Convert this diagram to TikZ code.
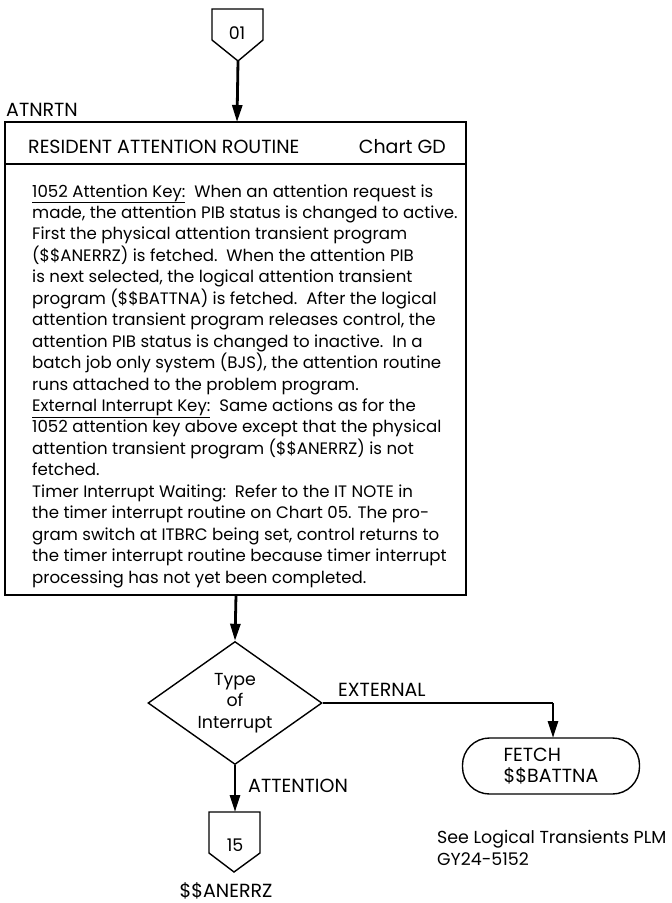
\documentclass[tikz,border=0pt]{standalone}
\usepackage{fontspec}
\setmainfont{Poppins}
\usetikzlibrary{arrows.meta,shapes.geometric,calc}
\newcommand{\bodyfnt}{\fontsize{16.6}{21.4}\selectfont}
\newcommand{\lblfnt}{\fontsize{17.4}{21.4}\selectfont}
\newcommand{\capsfnt}{\fontsize{19}{21.4}\selectfont}
\begin{document}
\begin{tikzpicture}[x=1pt,y=-1pt,
  shapeline/.style={line width=1.4pt},
  flow/.style={line width=2.8pt,-{Triangle[length=17pt,width=10pt]}},
  flowplain/.style={line width=2.8pt},
  lbl/.style={inner sep=0pt,font=\lblfnt},
  caps/.style={inner sep=0pt,font=\capsfnt},
  bodyline/.style={inner sep=0pt,anchor=base west,font=\bodyfnt}]
\useasboundingbox (0,0) rectangle (672,903);

% off-page connector 01
\node[lbl] (c01) at (237,33) {01};
\draw[shapeline] ($(c01)+(-25,-24)$) -- ($(c01)+(26,-24)$) -- ($(c01)+(26,7)$)
   -- ($(c01)+(1,28)$) -- ($(c01)+(-25,7)$) -- cycle;
\coordinate (c01tip) at ($(c01)+(1,28)$);

% main box
\node[caps,anchor=base west] (atn) at (6,116) {ATNRTN};
\draw[shapeline] (5,122) coordinate (boxnw) rectangle (466,595) coordinate (boxse);
\coordinate (boxtop) at (237,122);
\coordinate (boxbot) at (236,595);
\draw[shapeline] (5,164) -- (466,164);
\node[caps,anchor=base west] (hdr) at (28,153) {RESIDENT ATTENTION ROUTINE};
\node[caps,anchor=base east] (chart) at (446,153) {Chart GD};

\foreach \t [count=\i from 0] in {
 {\underline{1052 Attention Key:}\ \ When an attention request is},
 {made, the attention PIB status is changed to active.},
 {First the physical attention transient program},
 {(\$\$ANERRZ) is fetched.\ \ When the attention PIB},
 {is next selected, the logical attention transient},
 {program (\$\$BATTNA) is fetched.\ \ After the logical},
 {attention transient program releases control, the},
 {attention PIB status is changed to inactive.\ \ In a},
 {batch job only system (BJS), the attention routine},
 {runs attached to the problem program.},
 {\underline{External Interrupt Key:}\ \ Same actions as for the},
 {1052 attention key above except that the physical},
 {attention transient program (\$\$ANERRZ) is not},
 {fetched.},
 {Timer Interrupt Waiting:\ \ Refer to the IT NOTE in},
 {the timer interrupt routine on Chart 05. The pro-},
 {gram switch at ITBRC being set, control returns to},
 {the timer interrupt routine because timer interrupt},
 {processing has not yet been completed.}}
 \node[bodyline] (line\i) at (32,197+21.45*\i) {\t};

% decision
\node[draw,shapeline,diamond,aspect=1.41,inner sep=0pt,minimum width=174pt,minimum height=123pt,
      align=center,font=\lblfnt] (dec) at (235,703) {Type\\of\\Interrupt};

% terminal
\node[draw,shapeline,rounded corners=27pt,minimum width=177pt,minimum height=56pt,
      inner sep=0pt,align=left,font=\capsfnt] (fetch) at (551,766) {FETCH\\\$\$BATTNA};
\coordinate (extcorner) at (553,703);
\coordinate (fetchtop) at (553,738);

% off-page connector 15
\node[lbl] (c15) at (235,845) {15};
\draw[shapeline] ($(c15)+(-26,-33)$) -- ($(c15)+(25,-33)$) -- ($(c15)+(25,8)$)
   -- ($(c15)+(-1,27)$) -- ($(c15)+(-26,8)$) -- cycle;
\coordinate (c15top) at ($(c15)+(0,-33)$);

% connectors
\draw[flow] (c01tip) -- (boxtop);
\draw[flow] (boxbot) -- (dec.north);
\draw[flowplain] (dec.east) -- (extcorner);
\draw[flow] (extcorner) -- (fetchtop);
\draw[flow] (dec.south) -- (c15top);

% labels
\node[caps,anchor=base west] (ext) at (338,696) {EXTERNAL};
\node[caps,anchor=base west] (att) at (248,792) {ATTENTION};
\node[caps,anchor=base] (anerrz) at (226,897) {\$\$ANERRZ};
\node[lbl,anchor=base west] (see) at (437,843) {See Logical Transients PLM};
\node[lbl,anchor=base west] (gy) at (437,865) {GY24-5152};
\end{tikzpicture}
\end{document}
